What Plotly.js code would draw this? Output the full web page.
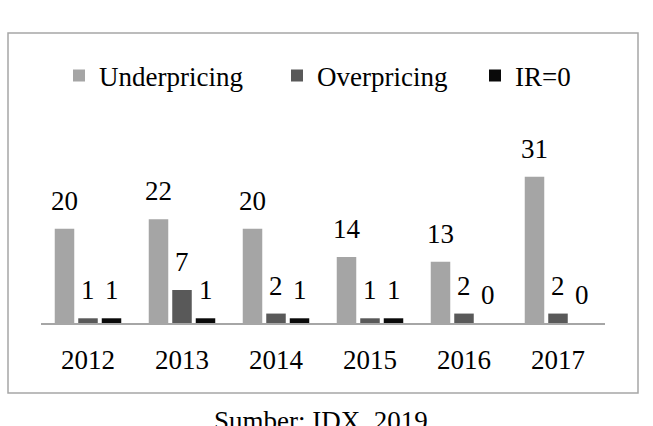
<!DOCTYPE html>
<html>
<head>
<meta charset="utf-8">
<script src="https://cdn.plot.ly/plotly-3.0.1.min.js"></script>
<style>html,body{margin:0;padding:0;background:#fff;}#chart{width:653px;height:426px;}</style>
</head>
<body>
<div id="chart"></div>
<script>
const years = ['2012', '2013', '2014', '2015', '2016', '2017'];
const seriesNames = ['Underpricing', 'Overpricing', 'IR=0'];
const underpricing = [20, 22, 20, 14, 13, 31];
const overpricing = [1, 7, 2, 1, 2, 2];
const irZero = [1, 1, 1, 1, 0, 0];
const sourceNote = 'Sumber: IDX, 2019';

const allValues = [underpricing, overpricing, irZero];
const colors = ['#a5a5a5', '#595959', '#0a0a0a'];
const legendWidths = [173, 153, 70];
const font = 'Liberation Serif, Times New Roman, serif';
const fs = 27;

const W = 653, H = 426;
const margin = {l: 41, r: 48, t: 158, b: 103, pad: 0};
const bargap = 0.25, bargroupgap = 0.17;
const plotW = W - margin.l - margin.r;
const plotH = H - margin.t - margin.b;
const catW = plotW / years.length;
const slot = catW * (1 - bargap) / seriesNames.length;

const traces = allValues.map((vals, i) => ({
  type: 'bar',
  name: seriesNames[i],
  x: years,
  y: vals,
  legendwidth: legendWidths[i],
  marker: {color: colors[i], line: {width: 0}},
  hoverinfo: 'skip'
}));

const annotations = [];
allValues.forEach((vals, i) => {
  vals.forEach((v, j) => {
    annotations.push({
      x: j, y: v, xref: 'x', yref: 'y',
      xshift: (i - 1) * slot, yshift: 11,
      yanchor: 'bottom', xanchor: 'center',
      text: String(v), showarrow: false,
      font: {family: font, size: fs, color: '#000'}
    });
  });
});

// px to paper helpers
const px2x = p => (p - margin.l) / plotW;
const py2y = p => (H - margin.b - p) / plotH;

annotations.push({
  x: px2x(321), y: py2y(404), xref: 'paper', yref: 'paper',
  xanchor: 'center', yanchor: 'top', showarrow: false,
  text: sourceNote, font: {family: font, size: fs, color: '#000'}
});

const layout = {
  width: W, height: H, margin: margin,
  paper_bgcolor: '#fff', plot_bgcolor: '#fff',
  barmode: 'group', bargap: bargap, bargroupgap: bargroupgap,
  font: {family: font, size: fs, color: '#000'},
  showlegend: true,
  legend: {
    orientation: 'h', x: px2x(59), xanchor: 'left',
    y: py2y(76), yanchor: 'middle',
    font: {family: font, size: fs, color: '#000'},
    itemwidth: 30, bgcolor: 'rgba(0,0,0,0)'
  },
  xaxis: {
    type: 'category', range: [-0.5, years.length - 0.5], autorange: false,
    showline: true, linecolor: '#a6a6a6', linewidth: 1.5,
    ticks: '', showgrid: false, zeroline: false, ticklabelstandoff: 12,
    tickfont: {family: font, size: fs, color: '#000'}, fixedrange: true
  },
  yaxis: {
    range: [0, 35], autorange: false, visible: false, showgrid: false, zeroline: false, fixedrange: true
  },
  shapes: [{
    type: 'rect', xref: 'paper', yref: 'paper',
    x0: px2x(8), x1: px2x(638), y0: py2y(393), y1: py2y(33),
    line: {color: '#a6a6a6', width: 1.5}, fillcolor: 'rgba(0,0,0,0)', layer: 'below'
  }],
  annotations: annotations
};

Plotly.newPlot('chart', traces, layout, {displayModeBar: false, staticPlot: true});
</script>
</body>
</html>
